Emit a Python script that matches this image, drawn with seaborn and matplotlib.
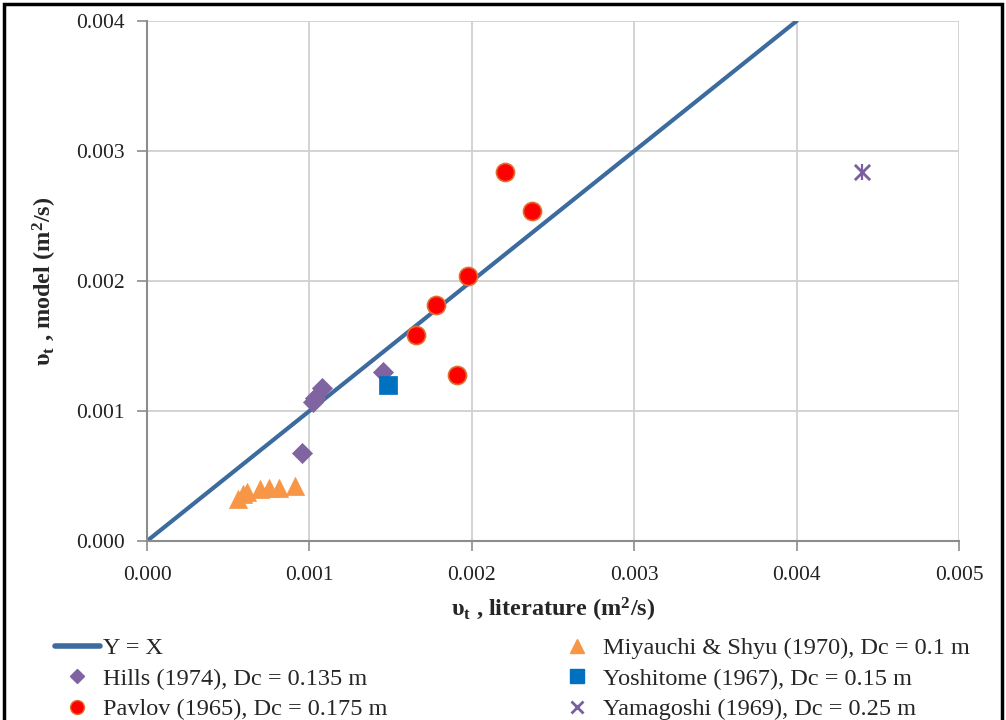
import matplotlib
matplotlib.use("Agg")
import matplotlib.pyplot as plt
import seaborn as sns
import pandas as pd
from matplotlib.lines import Line2D
from matplotlib.patches import Rectangle

# ---- data ----
yx_x = [0.0, 0.004]
yx_y = [0.0, 0.004]

miyauchi_x = [0.000562, 0.000593, 0.000614, 0.000696, 0.000753, 0.000815, 0.000911]
miyauchi_y = [0.00032, 0.00036, 0.00038, 0.00040, 0.00041, 0.00041, 0.00042]

hills_x = [0.000952, 0.001024, 0.001034, 0.001076, 0.001455]
hills_y = [0.000674, 0.001072, 0.001098, 0.001175, 0.001302]

yoshitome_x = [0.001486]
yoshitome_y = [0.00120]

pavlov_x = [0.001654, 0.001780, 0.001910, 0.001978, 0.002204, 0.002369]
pavlov_y = [0.001585, 0.001815, 0.001277, 0.002040, 0.002840, 0.002540]

yamagoshi_x = [0.0044]
yamagoshi_y = [0.00284]

labels = {
    "yx": "Y = X",
    "miyauchi": "Miyauchi & Shyu (1970), Dc = 0.1 m",
    "hills": "Hills (1974), Dc = 0.135 m",
    "yoshitome": "Yoshitome (1967), Dc = 0.15 m",
    "pavlov": "Pavlov (1965), Dc = 0.175 m",
    "yamagoshi": "Yamagoshi (1969), Dc = 0.25 m",
}
xticks = [0.000, 0.001, 0.002, 0.003, 0.004, 0.005]
yticks = [0.000, 0.001, 0.002, 0.003, 0.004]

sns.set_theme(style="white")
plt.rcParams['font.family'] = ['Liberation Serif', 'DejaVu Serif']
plt.rcParams['mathtext.fontset'] = 'custom'
plt.rcParams['mathtext.rm'] = 'Liberation Serif'
plt.rcParams['mathtext.it'] = 'Liberation Serif:italic'
plt.rcParams['mathtext.bf'] = 'Liberation Serif:bold'

fig = plt.figure(figsize=(10.06, 7.2), dpi=100)
ax = fig.add_axes([147/1006, 1-541/720, (959-147)/1006, (541-21)/720])

line_c = "#3E6B9E"
sns.lineplot(x=yx_x, y=yx_y, ax=ax, color=line_c, linewidth=3.0, zorder=2)

c_tri = "#F79646"; c_dia = "#8064A2"; c_sq = "#0070C0"; c_red = "#FF0000"; c_x = "#7B5EA0"
sns.scatterplot(x=miyauchi_x, y=miyauchi_y, ax=ax, marker="^", s=170, color=c_tri, edgecolor=c_tri, linewidth=0.5, zorder=3)
sns.scatterplot(x=hills_x, y=hills_y, ax=ax, marker="D", s=105, color=c_dia, edgecolor=c_dia, linewidth=0.5, zorder=3)
sns.scatterplot(x=yoshitome_x, y=yoshitome_y, ax=ax, marker="s", s=150, color=c_sq, edgecolor=c_sq, linewidth=0.5, zorder=4)
sns.scatterplot(x=pavlov_x, y=pavlov_y, ax=ax, marker="o", s=170, color=c_red, edgecolor="#E07030", linewidth=1.2, zorder=3)
sns.scatterplot(x=yamagoshi_x, y=yamagoshi_y, ax=ax, marker="x", s=120, color=c_x, linewidth=2.0, zorder=3)
ax.scatter(yamagoshi_x, yamagoshi_y, marker="|", s=120, color=c_x, linewidth=1.6, zorder=3)

ax.set_xlim(0, 0.005)
ax.set_ylim(0, 0.004)
ax.set_xticks(xticks)
ax.set_yticks(yticks)
ax.set_xticklabels([f"{v:.3f}" for v in xticks], fontsize=15.5)
ax.set_yticklabels([f"{v:.3f}" for v in yticks], fontsize=15.5)
ax.grid(True, color="#D0D0D0", linewidth=1.3)
ax.set_axisbelow(True)
for s in ["top", "right"]:
    ax.spines[s].set_visible(False)
for s in ["left", "bottom"]:
    ax.spines[s].set_color("#8C8C8C")
    ax.spines[s].set_linewidth(1.5)
ax.tick_params(axis="both", direction="out", length=7, width=1.2, color="#8C8C8C", labelcolor="#222222")
ax.tick_params(axis="y", pad=9)
ax.tick_params(axis="x", pad=11)
ax.tick_params(bottom=True, left=True)

ax.set_xlabel(r"υ$_{\mathbf{t}}$ , literature (m$^{\mathbf{2}}$/s)", fontsize=17.5, fontweight="bold", labelpad=8)
ax.set_ylabel(r"υ$_{\mathbf{t}}$ , model (m$^{\mathbf{2}}$/s)", fontsize=17.5, fontweight="bold", labelpad=12)

h_yx = Line2D([], [], color=line_c, linewidth=4)
h_hills = Line2D([], [], marker="D", color=c_dia, linestyle="None", markersize=7)
h_pav = Line2D([], [], marker="o", color=c_red, markeredgecolor="#E07030", linestyle="None", markersize=10)
h_miy = Line2D([], [], marker="^", color=c_tri, linestyle="None", markersize=10)
h_yos = Line2D([], [], marker="s", color=c_sq, linestyle="None", markersize=10)
h_yam = Line2D([], [], marker="x", color=c_x, linestyle="None", markersize=9, markeredgewidth=2)

leg_kw = dict(frameon=False, fontsize=17.5, handlelength=1.85, handletextpad=0.12, labelspacing=0.35,
              borderaxespad=0, borderpad=0)
fig.legend([h_yx, h_hills, h_pav], [labels["yx"], labels["hills"], labels["pavlov"]],
           loc="upper left", bbox_to_anchor=(55/1006, 1-637/720), **leg_kw)
fig.legend([h_miy, h_yos, h_yam], [labels["miyauchi"], labels["yoshitome"], labels["yamagoshi"]],
           loc="upper left", bbox_to_anchor=(555/1006, 1-637/720), **leg_kw)

fig.patches.append(Rectangle((4/1006, -0.01), 998/1006, 1 - 4/720 + 0.01, transform=fig.transFigure,
                             fill=False, edgecolor="black", linewidth=2.5))

fig.savefig("out.png", dpi=100)
